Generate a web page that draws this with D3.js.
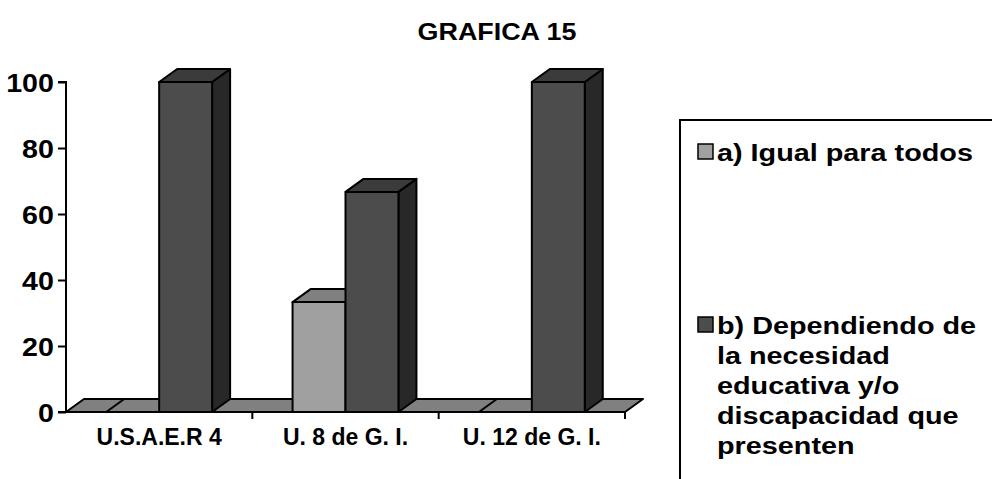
<!DOCTYPE html>
<html><head><meta charset="utf-8">
<script src="https://cdn.jsdelivr.net/npm/d3@7"></script>
<style>body{margin:0;background:#fff}svg{display:block}text{font-family:"Liberation Sans",Arial,sans-serif;font-weight:bold;fill:#000}</style>
</head><body><svg id="c" width="992" height="479"></svg>
<script>
const categories = ["U.S.A.E.R 4", "U. 8 de G. I.", "U. 12 de G. I."];
const seriesNames = ["a) Igual para todos", "b) Dependiendo de la necesidad educativa y/o discapacidad que presenten"];
const legendLines = [["a) Igual para todos"], ["b) Dependiendo de", "la necesidad", "educativa y/o", "discapacidad que", "presenten"]];
const seriesA = [0, 33.3, 0];
const seriesB = [100, 66.7, 100];
const yTicks = [0, 20, 40, 60, 80, 100];
const title = "GRAFICA 15";

const colors = [
  {front:"#a0a0a0", top:"#808080", side:"#5a5a5a"},
  {front:"#4c4c4c", top:"#3b3b3b", side:"#282828"}
];
const svg = d3.select("#c");
const X0 = 66, X1 = 625, Y0 = 412, Y1 = 82;
const DX = 18, DY = -13;
const x = d3.scaleBand().domain(categories).range([X0, X1]).padding(0);
const xs = d3.scaleBand().domain([0,1]).range([0, x.bandwidth()]).paddingInner(0).paddingOuter(0.76);
const y = d3.scaleLinear().domain([0,100]).range([Y0, Y1]);
const data = [seriesA, seriesB];

// title
svg.append("text").attr("x", 497).attr("y", 40).attr("text-anchor","middle")
  .attr("font-size", 24).attr("transform","translate(497,0) scale(1.12,1) translate(-497,0)").text(title);

// floor
const poly = pts => pts.map(p=>p.join(",")).join(" ");
svg.append("polygon").attr("points", poly([[X0,Y0],[X1,Y0],[X1+DX,Y0+DY],[X0+DX,Y0+DY]]))
  .attr("fill","#808080").attr("stroke","#000").attr("stroke-width",2).attr("stroke-linejoin","round");

// bars
categories.forEach((c,i)=>{
  [0,1].forEach(s=>{
    const v = data[s][i];
    const bx = x(c) + xs(s), bw = xs.bandwidth();
    const top = y(v), bot = y(0);
    const col = colors[s];
    const g = svg.append("g").attr("stroke","#000").attr("stroke-width",2).attr("stroke-linejoin","round");
    if (v > 0) {
      g.append("polygon").attr("points", poly([[bx+bw,top],[bx+bw+DX,top+DY],[bx+bw+DX,bot+DY],[bx+bw,bot]])).attr("fill",col.side);
      g.append("rect").attr("x",bx).attr("y",top).attr("width",bw).attr("height",bot-top).attr("fill",col.front);
    }
    g.append("polygon").attr("points", poly([[bx,top],[bx+bw,top],[bx+bw+DX,top+DY],[bx+DX,top+DY]])).attr("fill",col.top);
  });
});

// axes
const yAxis = d3.axisLeft(y).tickValues(yTicks).tickSize(8).tickPadding(4);
const ga = svg.append("g").attr("transform",`translate(${X0},0)`).call(yAxis);
ga.select(".domain").attr("stroke","#000").attr("stroke-width",2).attr("d",`M-8,${Y1}H0V${Y0}`);
ga.selectAll(".tick line").attr("stroke","#000").attr("stroke-width",2);
ga.selectAll(".tick text").attr("font-size",26).attr("font-family",null).attr("fill","#000")
  .attr("transform","scale(1.1,1) translate(1,1)");

const xAxis = d3.axisBottom(x).tickSize(0).tickPadding(18);
const gx = svg.append("g").attr("transform",`translate(0,${Y0})`).call(xAxis);
gx.select(".domain").attr("stroke","#000").attr("stroke-width",2).attr("d",`M${X0-8},0H${X1}`);
gx.selectAll(".tick text").attr("font-size",23).attr("font-family",null).attr("fill","#000").attr("dy","0.66em");
// category boundary ticks
gx.selectAll("line.bt").data(categories.map(c=>x(c)+x.bandwidth())).enter().append("line").attr("class","bt")
  .attr("x1",d=>d).attr("x2",d=>d).attr("y1",0).attr("y2",7).attr("stroke","#000").attr("stroke-width",2);

// legend
svg.append("rect").attr("x",680).attr("y",120).attr("width",400).attr("height",420)
  .attr("fill","none").attr("stroke","#000").attr("stroke-width",2);
const legY = [161, 334];
legendLines.forEach((lines,s)=>{
  svg.append("rect").attr("x",698).attr("y",legY[s]-17).attr("width",15).attr("height",15)
    .attr("fill",colors[s].front).attr("stroke","#000").attr("stroke-width",1.5);
  const t = svg.append("text").attr("font-size",24).attr("x",717).attr("y",legY[s])
    .attr("transform","translate(717,0) scale(1.2,1) translate(-717,0)");
  lines.forEach((l,k)=>t.append("tspan").attr("x",717).attr("y",legY[s]+k*30).text(l));
});
</script></body></html>
